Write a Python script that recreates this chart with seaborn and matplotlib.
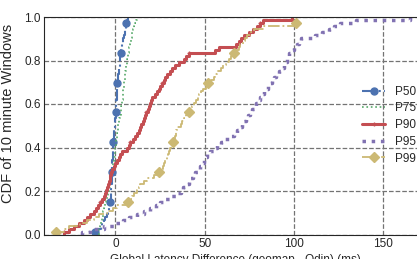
import matplotlib
matplotlib.use("Agg")
import matplotlib.pyplot as plt
import seaborn as sns

# per-window latency differences (ms), one list per percentile
p50 = [-11.2, -9.5, -8.3, -7.4, -6.5, -5.6, -4.5, -4.0, -3.5, -3.1,
       -2.8, -2.7, -2.6, -2.5, -2.4, -2.3, -2.2, -2.1, -2.0, -2.0,
       -1.9, -1.85, -1.8, -1.75, -1.7, -1.6, -1.55, -1.5, -1.4, -1.35,
       -1.3, -1.1, -1.0, -0.8, -0.7, -0.5, -0.4, -0.2, -0.1, 0.1,
       0.2, 0.3, 0.4, 0.5, 0.6, 0.7, 0.8, 0.9, 1.0, 1.05,
       1.1, 1.3, 1.5, 1.7, 1.9, 2.1, 2.3, 2.5, 2.7, 2.8,
       3.0, 3.3, 3.6, 3.9, 4.2, 4.5, 4.8, 5.1, 5.4, 5.8,
       6.2, 6.5, 6.9]
p75 = [-9.4, -9.0, -8.6, -8.2, -7.8, -7.5, -7.1, -6.7, -6.3, -6.0,
       -5.6, -5.1, -4.6, -4.2, -3.7, -3.4, -3.2, -2.9, -2.6, -2.4,
       -2.1, -1.9, -1.6, -1.3, -1.0, -0.7, -0.4, -0.2, 0.0, 0.2,
       0.4, 0.6, 0.8, 0.9, 1.2, 1.4, 1.7, 1.9, 2.2, 2.6,
       2.9, 3.2, 3.4, 3.6, 3.8, 4.0, 4.1, 4.3, 4.5, 4.7,
       4.9, 5.0, 5.2, 5.4, 5.6, 5.9, 6.1, 6.4, 6.7, 7.0,
       7.2, 7.5, 7.8, 8.1, 8.5, 8.8, 9.1, 9.4, 9.9, 10.4,
       11.0, 11.6, 12.2]
p90 = [-29.0, -26.0, -23.4, -20.5, -17.8, -16.0, -14.0, -12.2, -11.0, -9.6,
       -8.4, -7.4, -6.4, -5.6, -5.1, -4.6, -4.1, -3.7, -3.2, -2.8,
       -2.3, -1.9, -1.0, 0.0, 1.0, 1.9, 2.8, 3.7, 6.5, 7.5,
       8.4, 9.8, 11.2, 12.2, 13.1, 14.0, 14.6, 15.3, 15.9, 16.6,
       17.3, 18.0, 18.7, 19.3, 20.0, 20.6, 22.0, 23.4, 24.3, 25.2,
       26.2, 27.1, 28.0, 29.0, 30.4, 31.8, 33.6, 35.5, 38.3, 39.7,
       41.1, 56.0, 58.0, 67.5, 69.2, 70.5, 72.0, 74.8, 77.0, 79.5,
       81.0, 82.5, 99.0]
p95 = [-18.5, -14.0, -6.5, 0.0, 4.0, 7.5, 12.0, 16.0, 19.6, 22.5,
       25.0, 28.0, 30.8, 34.0, 36.5, 38.0, 39.5, 41.0, 42.0, 43.5,
       44.8, 46.0, 47.3, 48.5, 49.5, 50.5, 51.4, 53.0, 55.0, 57.0,
       58.9, 61.5, 64.0, 66.2, 68.2, 70.0, 71.0, 72.0, 73.0, 74.2,
       75.3, 76.5, 77.6, 78.7, 79.9, 81.0, 82.1, 83.2, 84.3, 85.5,
       86.6, 87.7, 88.8, 90.2, 91.6, 93.0, 94.4, 95.2, 96.0, 96.8,
       97.5, 98.1, 100.0, 101.9, 102.8, 103.8, 112.0, 116.0, 119.5, 122.4,
       126.0, 135.0, 165.0]
p99 = [-33.0, -29.0, -26.0, -20.0, -16.0, -12.2, -9.0, -4.7, -1.5, 0.9,
       6.9, 8.5, 9.5, 10.5, 12.0, 13.0, 14.0, 16.0, 17.8, 21.5,
       24.3, 25.5, 26.5, 27.1, 28.0, 28.8, 29.5, 29.9, 30.6, 31.3,
       32.0, 32.6, 33.2, 33.8, 34.2, 34.6, 36.5, 37.5, 38.5, 39.3,
       41.1, 42.0, 42.8, 43.9, 45.0, 46.0, 47.0, 47.7, 49.0, 50.5,
       52.0, 53.5, 55.0, 56.0, 57.0, 58.9, 60.5, 62.0, 63.5, 65.0,
       66.7, 67.8, 69.0, 70.0, 71.5, 72.8, 73.9, 75.5, 77.6, 83.2,
       101.0, 101.5, 102.0]

labels = ["P50", "P75", "P90", "P95", "P99"]
series = [p50, p75, p90, p95, p99]
colors = ["#4C72B0", "#55A868", "#C44E52", "#8172B2", "#CCB974"]
styles = [
    dict(ls="-.", lw=1.5, marker="o", ms=5),
    dict(ls=":", lw=1.2),
    dict(ls="-", lw=2.2, marker="+", ms=3),
    dict(ls=":", lw=2.5),
    dict(ls="-.", lw=1.3, marker="D", ms=5),
]

sns.set_style("whitegrid", {"grid.linestyle": "--", "grid.color": "0.45",
                            "axes.edgecolor": "0.15", "axes.linewidth": 1.2})
plt.rcParams["font.family"] = ["Liberation Sans", "DejaVu Sans"]

fig = plt.figure(figsize=(4.17, 2.59), dpi=100)
ax = fig.add_axes([44 / 417, 24.5 / 259, 382 / 417, 217.5 / 259])

for vals, lab, col, st in zip(series, labels, colors, styles):
    sns.ecdfplot(x=vals, ax=ax, color=col, label=lab, markevery=(1, 10), **st)

ax.set_xlim(-40, 174)
ax.set_ylim(0, 1)
ax.set_xticks([0, 50, 100, 150])
ax.set_yticks([0, 0.2, 0.4, 0.6, 0.8, 1.0])
ax.set_yticklabels(["0.0", "0.2", "0.4", "0.6", "0.8", "1.0"])
ax.tick_params(labelsize=8.5, pad=2.5, length=0, colors="0.15")
ax.set_xlabel("Global Latency Difference (geomap - Odin) (ms)", fontsize=8.5, labelpad=3)
ax.set_ylabel("CDF of 10 minute Windows", fontsize=10.5)
ax.yaxis.set_label_coords(-0.076, 0.555)
ax.grid(True, lw=0.9)
ax.spines["right"].set_visible(False)

ax.legend(loc="upper left", bbox_to_anchor=(357 / 417, 1 - 81 / 259),
          bbox_transform=fig.transFigure, frameon=False, fontsize=8.5,
          labelspacing=0.4, handlelength=2.0, borderaxespad=0)

fig.savefig("out.png", dpi=100)
